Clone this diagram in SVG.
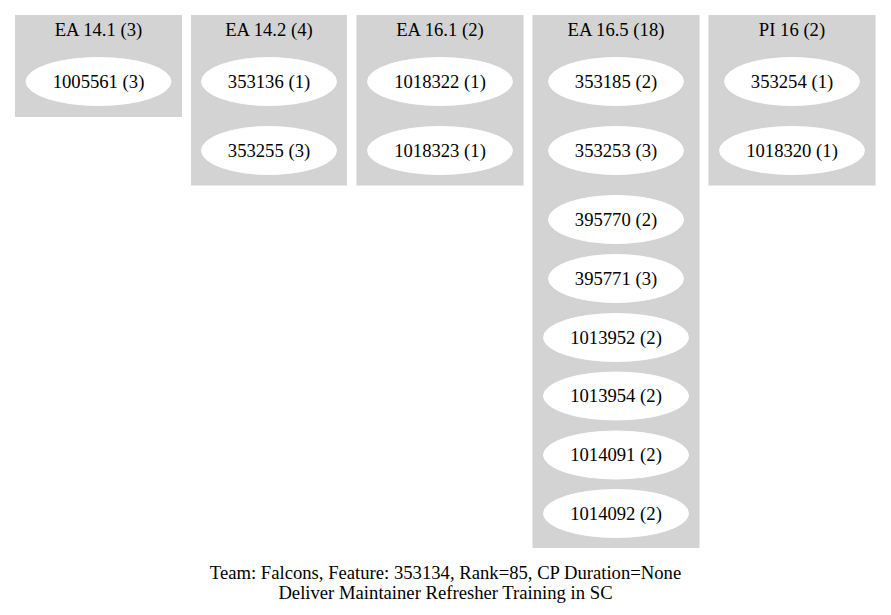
<svg xmlns="http://www.w3.org/2000/svg" width="891" height="615" viewBox="0 0 891 615">
<style>
.cl{fill:#d3d3d3;stroke:#d3d3d3;}
.nd{fill:#ffffff;stroke:#ffffff;}
text{font-family:"Liberation Serif","Times New Roman",serif;font-size:18.67px;fill:#000;text-anchor:middle;}
</style>
<rect width="891" height="615" fill="#ffffff"/>
<g id="cluster_ea141">
<rect class="cl" x="15.5" y="15.5" width="166" height="101"/>
<text x="98.5" y="36">EA 14.1 (3)</text>
</g>
<g id="cluster_ea142">
<rect class="cl" x="191.5" y="15.5" width="155" height="169.5"/>
<text x="269" y="36">EA 14.2 (4)</text>
</g>
<g id="cluster_ea161">
<rect class="cl" x="357" y="15.5" width="166" height="169.5"/>
<text x="440" y="36">EA 16.1 (2)</text>
</g>
<g id="cluster_ea165">
<rect class="cl" x="533" y="15.5" width="166" height="532"/>
<text x="616" y="36">EA 16.5 (18)</text>
</g>
<g id="cluster_pi16">
<rect class="cl" x="709" y="15.5" width="166" height="169.5"/>
<text x="792" y="36">PI 16 (2)</text>
</g>
<g id="n1005561"><ellipse class="nd" cx="98.5" cy="81.5" rx="72.5" ry="24"/><text x="98.5" y="87.5">1005561 (3)</text></g>
<g id="n353136"><ellipse class="nd" cx="269" cy="81.5" rx="67.5" ry="24"/><text x="269" y="87.5">353136 (1)</text></g>
<g id="n353255"><ellipse class="nd" cx="269" cy="150.5" rx="67.5" ry="24"/><text x="269" y="156.5">353255 (3)</text></g>
<g id="n1018322"><ellipse class="nd" cx="440" cy="81.5" rx="72.5" ry="24"/><text x="440" y="87.5">1018322 (1)</text></g>
<g id="n1018323"><ellipse class="nd" cx="440" cy="150.5" rx="72.5" ry="24"/><text x="440" y="156.5">1018323 (1)</text></g>
<g id="n353185"><ellipse class="nd" cx="616" cy="81.5" rx="67.5" ry="24"/><text x="616" y="87.5">353185 (2)</text></g>
<g id="n353253"><ellipse class="nd" cx="616" cy="150.5" rx="67.5" ry="24"/><text x="616" y="156.5">353253 (3)</text></g>
<g id="n395770"><ellipse class="nd" cx="616" cy="219.5" rx="67.5" ry="24"/><text x="616" y="225.5">395770 (2)</text></g>
<g id="n395771"><ellipse class="nd" cx="616" cy="278.5" rx="67.5" ry="24"/><text x="616" y="284.5">395771 (3)</text></g>
<g id="n1013952"><ellipse class="nd" cx="616" cy="337.5" rx="72.5" ry="24"/><text x="616" y="343.5">1013952 (2)</text></g>
<g id="n1013954"><ellipse class="nd" cx="616" cy="396" rx="72.5" ry="24"/><text x="616" y="402">1013954 (2)</text></g>
<g id="n1014091"><ellipse class="nd" cx="616" cy="455" rx="72.5" ry="24"/><text x="616" y="461">1014091 (2)</text></g>
<g id="n1014092"><ellipse class="nd" cx="616" cy="513.5" rx="72.5" ry="24"/><text x="616" y="519.5">1014092 (2)</text></g>
<g id="n353254"><ellipse class="nd" cx="792" cy="81.5" rx="67.5" ry="24"/><text x="792" y="87.5">353254 (1)</text></g>
<g id="n1018320"><ellipse class="nd" cx="792" cy="150.5" rx="72.5" ry="24"/><text x="792" y="156.5">1018320 (1)</text></g>
<g id="connectors"></g>
<g id="label">
<text x="445.5" y="578.5">Team: Falcons, Feature: 353134, Rank=85, CP Duration=None</text>
<text x="445.5" y="598.5">Deliver Maintainer Refresher Training in SC</text>
</g>
</svg>
